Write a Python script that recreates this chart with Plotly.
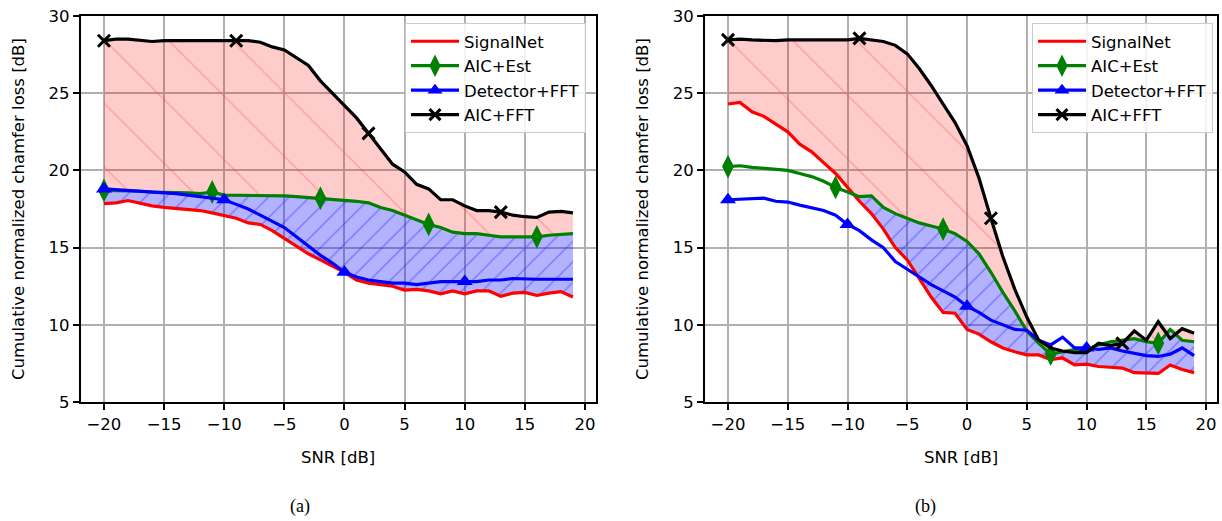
import plotly.graph_objects as go
import numpy as np

W, H = 1222, 521

snr = list(range(-20, 20))

# Panel (a)
a_signalnet = [17.85, 17.9, 18.05, 17.85, 17.7, 17.6, 17.55, 17.5, 17.4, 17.25, 17.1, 16.9, 16.6, 16.5, 16.1, 15.6, 15.1, 14.6, 14.2, 13.8,
               13.4, 12.9, 12.7, 12.6, 12.5, 12.25, 12.3, 12.2, 12.0, 12.2, 12.0, 12.2, 12.2, 11.85, 12.05, 12.1, 11.9, 12.05, 12.15, 11.8]
a_aic_est = [18.7, 18.7, 18.7, 18.65, 18.6, 18.6, 18.6, 18.55, 18.5, 18.6, 18.4, 18.4, 18.35, 18.4, 18.35, 18.35, 18.3, 18.25, 18.2, 18.15,
             18.1, 18.0, 17.9, 17.6, 17.4, 17.1, 16.8, 16.5, 16.3, 16.0, 15.9, 15.9, 15.8, 15.7, 15.7, 15.7, 15.7, 15.8, 15.85, 15.9]
a_det_fft = [18.8, 18.75, 18.7, 18.7, 18.65, 18.6, 18.5, 18.4, 18.3, 18.2, 18.1, 17.8, 17.5, 17.1, 16.7, 16.3, 15.7, 15.1, 14.5, 14.0,
             13.4, 13.1, 12.9, 12.8, 12.7, 12.7, 12.6, 12.7, 12.8, 12.8, 12.8, 12.8, 12.9, 12.9, 13.0, 12.95, 12.95, 12.95, 12.95, 12.95]
a_aic_fft = [28.4, 28.5, 28.5, 28.45, 28.35, 28.4, 28.4, 28.4, 28.4, 28.45, 28.4, 28.4, 28.4, 28.3, 28.0, 27.8, 27.3, 26.8, 25.8, 25.0,
             24.2, 23.4, 22.4, 21.4, 20.4, 19.9, 19.1, 18.8, 18.1, 18.1, 17.7, 17.4, 17.4, 17.3, 17.1, 17.0, 16.95, 17.3, 17.35, 17.25]

# Panel (b)
b_signalnet = [24.3, 24.4, 23.8, 23.5, 23.0, 22.5, 21.7, 21.2, 20.5, 19.8, 18.9, 18.0, 17.2, 16.2, 15.0, 14.2, 13.0, 11.8, 10.8, 10.75,
               9.7, 9.4, 8.9, 8.5, 8.25, 8.05, 8.05, 7.75, 7.85, 7.4, 7.45, 7.3, 7.25, 7.2, 6.9, 6.9, 6.85, 7.4, 7.1, 6.9]
b_aic_est = [20.25, 20.3, 20.2, 20.15, 20.1, 20.0, 19.8, 19.6, 19.3, 18.9, 18.6, 18.3, 18.35, 17.6, 17.2, 16.9, 16.6, 16.4, 16.2, 15.9,
             15.4, 14.6, 13.4, 12.1, 10.9, 9.6, 8.8, 8.1, 8.25, 8.4, 8.4, 8.7, 8.9, 9.0, 9.1, 8.9, 8.8, 9.7, 9.0, 8.9]
b_det_fft = [18.1, 18.15, 18.2, 18.2, 18.0, 17.95, 17.75, 17.6, 17.4, 17.1, 16.5, 16.1, 15.5, 15.0, 14.1, 13.6, 13.1, 12.6, 12.2, 11.8,
             11.2, 10.8, 10.3, 10.0, 9.7, 9.65, 9.0, 8.7, 9.2, 8.5, 8.5, 8.4, 8.5, 8.3, 8.15, 8.0, 7.95, 8.1, 8.5, 8.0]
b_aic_fft = [28.45, 28.5, 28.45, 28.4, 28.4, 28.45, 28.45, 28.45, 28.5, 28.5, 28.45, 28.55, 28.45, 28.35, 28.1, 27.55, 26.6, 25.5, 24.3, 23.1,
             21.6, 19.5, 16.9, 14.4, 12.3, 10.5, 9.0, 8.5, 8.3, 8.2, 8.2, 8.8, 8.65, 8.8, 9.6, 9.0, 10.2, 9.1, 9.75, 9.45]

series_names = ["SignalNet", "AIC+Est", "Detector+FFT", "AIC+FFT"]
x_ticks = [-20, -15, -10, -5, 0, 5, 10, 15, 20]
y_ticks = [5, 10, 15, 20, 25, 30]
x_title = "SNR [dB]"
y_title = "Cumulative normalized chamfer loss [dB]"
captions = ["(a)", "(b)"]

FONT = "DejaVu Sans"
FS = 16.5

# pixel layout
panels = [
    dict(x0=80.5, x1=596.4, xa="x", ya="y", xaxis="xaxis", yaxis="yaxis", legend="legend",
         leg_x=405, ytitle_x=18, cap_x=300),
    dict(x0=704.7, x1=1217.4, xa="x2", ya="y2", xaxis="xaxis2", yaxis="yaxis2", legend="legend2",
         leg_x=1032, ytitle_x=642, cap_x=925),
]
top_px, bot_px = 16, 402

styles = [
    dict(color="red", symbol=None, every=None, size=0, lsize=0),
    dict(color="green", symbol="diamond-tall", every=9, size=17, lsize=16),
    dict(color="blue", symbol="triangle-up", every=10, size=14, lsize=13),
    dict(color="black", symbol="x-thin", every=11, size=12, lsize=11),
]

fig = go.Figure()
data_sets = [
    [a_signalnet, a_aic_est, a_det_fft, a_aic_fft],
    [b_signalnet, b_aic_est, b_det_fft, b_aic_fft],
]


def marker_style(st, size):
    m = dict(symbol=st["symbol"], size=size, color=st["color"], opacity=1)
    if st["symbol"] == "x-thin":
        m["line"] = dict(color=st["color"], width=3)
    else:
        m["line"] = dict(width=0, color=st["color"])
    return m


for p, ds in zip(panels, data_sets):
    red = np.array(ds[0]); green = np.array(ds[1]); black = np.array(ds[3])
    # pink hatched region: between AIC+FFT and the upper of SignalNet / AIC+Est
    pink_low = np.maximum(red, green)
    pink_high = np.maximum(black, pink_low)
    # blue hatched region: between AIC+Est and SignalNet where AIC+Est is above
    blue_low = red
    blue_high = np.maximum(green, red)
    for low, high, bg, fg, shape, size, sol in [
        (pink_low, pink_high, "rgba(255,0,0,0.2)", "rgba(255,60,60,0.35)", "\\", 45, 0.03),
        (blue_low, blue_high, "rgba(0,0,255,0.3)", "rgba(40,40,255,0.45)", "/", 14.5, 0.09),
    ]:
        fig.add_trace(go.Scatter(x=snr, y=low, mode="lines", line=dict(width=0), showlegend=False,
                                 hoverinfo="skip", xaxis=p["xa"], yaxis=p["ya"]))
        fig.add_trace(go.Scatter(x=snr, y=high, mode="lines", line=dict(width=0), showlegend=False,
                                 hoverinfo="skip", fill="tonexty", fillcolor=bg,
                                 fillpattern=dict(shape=shape, bgcolor=bg, fgcolor=fg, size=size,
                                                  solidity=sol, fillmode="replace"),
                                 xaxis=p["xa"], yaxis=p["ya"]))
    for name, vals, st in zip(series_names, ds, styles):
        if st["symbol"] is None:
            fig.add_trace(go.Scatter(x=snr, y=vals, mode="lines", name=name, showlegend=False,
                                     line=dict(color=st["color"], width=3.2),
                                     xaxis=p["xa"], yaxis=p["ya"]))
        else:
            sizes = [st["size"] if i % st["every"] == 0 else 0 for i in range(len(vals))]
            fig.add_trace(go.Scatter(x=snr, y=vals, mode="lines+markers", name=name, showlegend=False,
                                     line=dict(color=st["color"], width=3.2),
                                     marker=marker_style(st, sizes),
                                     xaxis=p["xa"], yaxis=p["ya"]))
    # legend entries
    for name, st in zip(series_names, styles):
        kw = dict(x=[None], y=[None], name=name, xaxis=p["xa"], yaxis=p["ya"],
                  legend=p["legend"], showlegend=True, line=dict(color=st["color"], width=3.2))
        if st["symbol"] is None:
            fig.add_trace(go.Scatter(mode="lines", **kw))
        else:
            fig.add_trace(go.Scatter(mode="lines+markers", marker=marker_style(st, st["lsize"]), **kw))

ydom = [(H - bot_px) / H, (H - top_px) / H]
axis_common = dict(showline=True, mirror=True, linecolor="black", linewidth=1.5,
                   ticks="outside", ticklen=6, tickwidth=1.5, tickcolor="black",
                   showgrid=True, gridcolor="#b0b0b0", gridwidth=1.6, zeroline=False,
                   tickfont=dict(family=FONT, size=FS, color="black"))
layout = dict(width=W, height=H, margin=dict(l=0, r=0, t=0, b=0),
              paper_bgcolor="white", plot_bgcolor="white", showlegend=True)
annotations = []
for i, p in enumerate(panels):
    layout[p["xaxis"]] = dict(domain=[p["x0"] / W, p["x1"] / W], range=[-21.95, 20.95],
                              tickvals=x_ticks, anchor=p["ya"], automargin=False, **axis_common)
    layout[p["yaxis"]] = dict(domain=ydom, range=[5, 30], tickvals=y_ticks,
                              anchor=p["xa"], automargin=False, **axis_common)
    layout[p["legend"]] = dict(x=p["leg_x"] / W, y=1 - 23 / H, xanchor="left", yanchor="top",
                               xref="paper", yref="paper", traceorder="normal",
                               bgcolor="rgba(255,255,255,0.85)", bordercolor="#cccccc", borderwidth=1,
                               font=dict(family=FONT, size=FS, color="black"), itemwidth=48,
                               tracegroupgap=0)
    annotations.append(dict(text=y_title, x=p["ytitle_x"] / W, y=1 - (top_px + bot_px) / 2 / H,
                            xref="paper", yref="paper", showarrow=False, textangle=-90,
                            xanchor="center", yanchor="middle",
                            font=dict(family=FONT, size=FS, color="black")))
    annotations.append(dict(text=x_title, x=(p["x0"] + p["x1"]) / 2 / W, y=1 - 457 / H,
                            xref="paper", yref="paper", showarrow=False,
                            xanchor="center", yanchor="middle",
                            font=dict(family=FONT, size=FS, color="black")))
    annotations.append(dict(text=captions[i], x=p["cap_x"] / W, y=1 - 506 / H,
                            xref="paper", yref="paper", showarrow=False,
                            xanchor="center", yanchor="middle",
                            font=dict(family="Liberation Serif", size=18, color="black")))
layout["annotations"] = annotations
fig.update_layout(**layout)
fig.write_html("out.html", post_script="document.body.style.margin='0px';",
               config={"displayModeBar": False})
